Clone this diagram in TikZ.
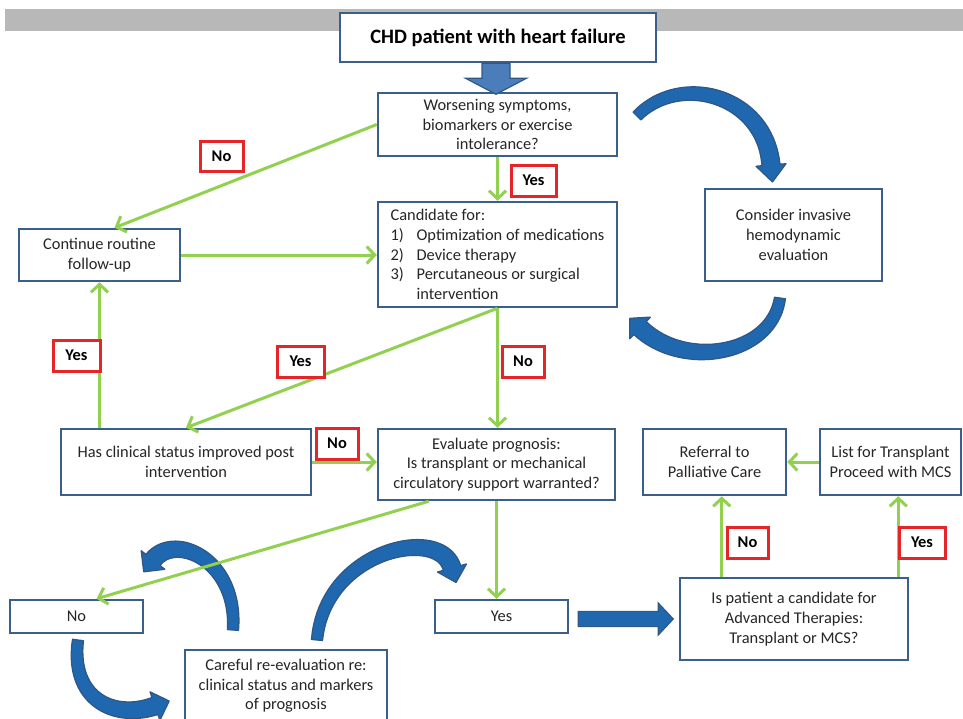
\documentclass[tikz,border=0pt]{standalone}
\usepackage{fontspec}
\setmainfont{Carlito}
\usetikzlibrary{arrows.meta,calc}
\definecolor{boxblue}{HTML}{3A5F8D}
\definecolor{grn}{HTML}{92D050}
\definecolor{redb}{HTML}{E52528}
\definecolor{cfill}{HTML}{1F68B0}
\definecolor{cline}{HTML}{2F5887}
\definecolor{dfill}{HTML}{4A7DBA}
\definecolor{bandgray}{HTML}{B8B8B8}
\definecolor{txt}{HTML}{262626}
\tikzset{
  declare function={
    bz(\qt,\qa,\qb,\qc,\qd)=(1-\qt)^3*\qa+3*(1-\qt)^2*\qt*\qb+3*(1-\qt)*\qt^2*\qc+\qt^3*\qd;
    bd(\qt,\qa,\qb,\qc,\qd)=3*(1-\qt)^2*(\qb-\qa)+6*(1-\qt)*\qt*(\qc-\qb)+3*\qt^2*(\qd-\qc);
  },
  box/.style={draw=boxblue, line width=2.5pt, fill=white, text=txt, align=center,
    inner sep=0pt, font=\fontsize{16.4}{19.7}\selectfont},
  lbl/.style={draw=redb, line width=3pt, fill=white, text=black, inner sep=0pt,
    font=\bfseries\fontsize{16.4}{19.7}\selectfont},
  conn/.style={draw=grn, line width=3pt, -{Straight Barb[length=8pt,width=17pt]}},
  curv/.style={fill=cfill, draw=cline, line width=1.3pt, line join=round},
  blk/.style={fill=cfill, draw=cline, line width=1.2pt, line join=miter},
}
\def\wa{11}\def\wb{18}\def\hw{30}\def\hl{17}
\def\BArrow(#1,#2)(#3,#4)(#5,#6)(#7,#8){%
  \pgfmathsetmacro\tx{bd(1,#1,#3,#5,#7)}%
  \pgfmathsetmacro\ty{bd(1,#2,#4,#6,#8)}%
  \pgfmathsetmacro\tl{veclen(\tx,\ty)}%
  \pgfmathsetmacro\ux{\tx/\tl}\pgfmathsetmacro\uy{\ty/\tl}%
  \filldraw[curv] plot[domain=0:1,samples=40]
     ({bz(\x,#1,#3,#5,#7)-(\wa+(\wb-\wa)*\x)/2*bd(\x,#2,#4,#6,#8)/veclen(bd(\x,#1,#3,#5,#7),bd(\x,#2,#4,#6,#8))},
      {bz(\x,#2,#4,#6,#8)+(\wa+(\wb-\wa)*\x)/2*bd(\x,#1,#3,#5,#7)/veclen(bd(\x,#1,#3,#5,#7),bd(\x,#2,#4,#6,#8))})
    -- ({#7-\hw/2*\uy},{#8+\hw/2*\ux})
    -- ({#7+\hl*\ux},{#8+\hl*\uy})
    -- ({#7+\hw/2*\uy},{#8-\hw/2*\ux})
    -- plot[domain=1:0,samples=40]
     ({bz(\x,#1,#3,#5,#7)+(\wa+(\wb-\wa)*\x)/2*bd(\x,#2,#4,#6,#8)/veclen(bd(\x,#1,#3,#5,#7),bd(\x,#2,#4,#6,#8))},
      {bz(\x,#2,#4,#6,#8)-(\wa+(\wb-\wa)*\x)/2*bd(\x,#1,#3,#5,#7)/veclen(bd(\x,#1,#3,#5,#7),bd(\x,#2,#4,#6,#8))})
    -- cycle;}
\begin{document}
\begin{tikzpicture}[x=1pt,y=-1pt]
\useasboundingbox (0,0) rectangle (963,718);
\clip (0,0) rectangle (963,718);
\fill[bandgray] (5,9) rectangle (963,31);

% boxes
\node[box, text=black, minimum width=316pt, minimum height=49pt,
  font=\bfseries\fontsize{20.5}{24}\selectfont] (title) at (498,37.5) {CHD patient with heart failure};
\node[box, minimum width=239pt, minimum height=63pt] (worsen) at (497.5,124.5)
  {Worsening symptoms,\\biomarkers or exercise\\intolerance?};
\node[box, minimum width=239pt, minimum height=105pt, align=left] (cand) at (497.5,254.5)
  {Candidate for:\\
   \makebox[26pt][l]{1)}Optimization of medications\\
   \makebox[26pt][l]{2)}Device therapy\\
   \makebox[26pt][l]{3)}Percutaneous or surgical\\
   \hspace*{26pt}intervention};
\node[box, minimum width=161pt, minimum height=52pt] (cont) at (99.5,255) {Continue routine\\follow-up};
\node[box, minimum width=177pt, minimum height=92pt] (consider) at (793.5,235)
  {Consider invasive\\hemodynamic\\evaluation};
\node[box, minimum width=250pt, minimum height=66pt] (hascl) at (186,462)
  {Has clinical status improved post\\intervention};
\node[box, minimum width=237pt, minimum height=71pt] (evalp) at (496.5,464.5)
  {Evaluate prognosis:\\Is transplant or mechanical\\circulatory support warranted?};
\node[box, minimum width=143pt, minimum height=66pt] (refer) at (714.5,462) {Referral to\\Palliative Care};
\node[box, minimum width=141pt, minimum height=66pt] (list) at (890.5,462) {List for Transplant\\Proceed with MCS};
\node[box, minimum width=133pt, minimum height=33pt] (nobox) at (76.5,616.5) {No};
\node[box, minimum width=133pt, minimum height=33pt] (yesbox) at (501.5,616.5) {Yes};
\node[box, minimum width=202pt, minimum height=72pt] (careful) at (286,686)
  {Careful re-evaluation re:\\clinical status and markers\\of prognosis};
\node[box, minimum width=228pt, minimum height=82pt] (adv) at (794,619)
  {Is patient a candidate for\\Advanced Therapies:\\Transplant or MCS?};

% block arrows
\coordinate (da) at ($(title.south)+(-2,0)$);
\filldraw[blk, fill=dfill] ($(da)+(-14,0)$) -- ($(da)+(14,0)$) -- ($(da)+(14,15)$) -- ($(da)+(30.5,15)$)
  -- ($(da)+(0,31)$) -- ($(da)+(-30.5,15)$) -- ($(da)+(-14,15)$) -- cycle;
\coordinate (ra) at ($(yesbox.east |- adv.west)+(9,0)$);
\filldraw[blk] ($(ra)+(0,-7.5)$) -- ($(ra)+(80,-7.5)$) -- ($(ra)+(80,-16)$) -- ($(ra)+(95,0)$)
  -- ($(ra)+(80,16)$) -- ($(ra)+(80,7.5)$) -- ($(ra)+(0,7.5)$) -- cycle;

% curved arrows
\BArrow(637,116)(680,72)(765,95)(771,165)
\def\hl{14}
\BArrow(780,298)(772,355)(684,370)(640,328)
\def\hl{15}
\BArrow(233,630)(238,560)(175,532)(153,560)
\BArrow(78,640)(70,700)(115,720)(155,706)
\BArrow(317,640)(325,550)(440,525)(452,568)

% green connectors
\coordinate (a1) at ($(adv.north west)+(43,0)$);
\coordinate (a2) at ($(adv.north east)+(-11,0)$);
\coordinate (e1) at ($(evalp.south west)+(52,0)$);
\draw[conn] (worsen.west) -- ($(cont.north)+(15,0)$);
\draw[conn] (worsen.south) -- (cand.north);
\draw[conn] (cont.east) -- (cont.east -| cand.west);
\draw[conn] (cand.south) -- (hascl.north);
\draw[conn] (cand.south) -- (cand.south |- evalp.north);
\draw[conn] (hascl.north -| cont.south) -- (cont.south);
\draw[conn] (hascl.east) -- (hascl.east -| evalp.west);
\draw[conn] (list.west) -- (list.west -| refer.east);
\draw[conn] (a1) -- (a1 |- refer.south);
\draw[conn] (a2) -- (a2 |- list.south);
\draw[conn] (e1) -- ($(nobox.north)+(20,0)$);
\draw[conn] (evalp.south) -- (evalp.south |- yesbox.north);

% red labels
\node[lbl, minimum width=43pt, minimum height=30pt] (l1) at (221.5,156) {No};
\node[lbl, minimum width=45pt, minimum height=31pt] (l2) at (533.5,180.5) {Yes};
\node[lbl, minimum width=47pt, minimum height=31pt] (l3) at (76.5,355.5) {Yes};
\node[lbl, minimum width=47pt, minimum height=31pt] (l4) at (300.5,361.5) {Yes};
\node[lbl, minimum width=42pt, minimum height=31pt] (l5) at (523,361.5) {No};
\node[lbl, minimum width=42pt, minimum height=31pt] (l6) at (337,443.5) {No};
\node[lbl, minimum width=41pt, minimum height=31pt] (l7) at (747.5,542.5) {No};
\node[lbl, minimum width=46pt, minimum height=31pt] (l8) at (922,542.5) {Yes};
\end{tikzpicture}
\end{document}
